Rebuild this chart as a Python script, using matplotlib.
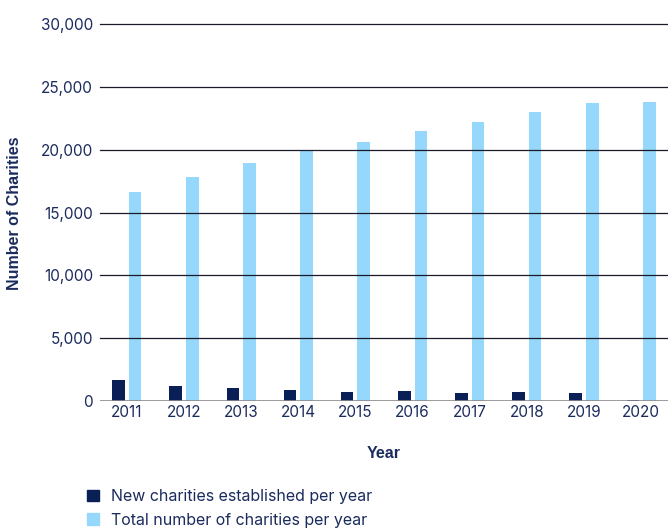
import matplotlib
matplotlib.use("Agg")
import matplotlib.pyplot as plt
import numpy as np
from matplotlib.patches import Patch

years = ["2011", "2012", "2013", "2014", "2015", "2016", "2017", "2018", "2019", "2020"]
new_charities = [1650, 1170, 1010, 850, 750, 830, 610, 750, 670, 60]
total_charities = [16600, 17800, 18900, 19900, 20600, 21500, 22200, 23000, 23700, 23800]
y_ticks = [0, 5000, 10000, 15000, 20000, 25000, 30000]
series_labels = ["New charities established per year", "Total number of charities per year"]

NAVY = "#0b1f57"
LIGHT = "#96d8fc"
TEXT = "#1b2b5e"
FONT = "Inter"

fig = plt.figure(figsize=(6.68, 5.32), dpi=100)
ax = fig.add_axes([100 / 668, 1 - 401 / 532, 1 - 100 / 668, (401 - 24) / 532])

x = np.arange(len(years))
w = 0.22
off = 0.146
ax.bar(x - off, new_charities, width=w, color=NAVY, zorder=2)
ax.bar(x + off, total_charities, width=w, color=LIGHT, zorder=2)

ax.set_xlim(-0.47, len(years) - 1 + 0.47)
ax.set_ylim(0, 30000)
ax.set_yticks(y_ticks)
ax.set_yticklabels([f"{v:,}" for v in y_ticks])
ax.set_xticks(x)
ax.set_xticklabels(years)

for v in y_ticks[1:]:
    ax.axhline(v, color="#1a1a2a", lw=0.9, zorder=3, clip_on=False)
ax.axhline(0, color="#8a8a8a", lw=1.2, zorder=3)

for s in ax.spines.values():
    s.set_visible(False)
ax.tick_params(axis="both", length=0, labelsize=11, labelcolor=TEXT)
ax.tick_params(axis="y", pad=5)
ax.tick_params(axis="x", pad=3)
for lbl in ax.get_xticklabels() + ax.get_yticklabels():
    lbl.set_fontfamily(FONT)

fig.text(15 / 668, 1 - 213 / 532, "Number of Charities", rotation=90, ha="center", va="center",
         fontsize=11.5, fontweight="bold", color=TEXT, family="Liberation Sans")
fig.text(384 / 668, 1 - 453 / 532, "Year", ha="center", va="center",
         fontsize=11.5, fontweight="bold", color=TEXT, family="Liberation Sans")

handles = [Patch(color=NAVY), Patch(color=LIGHT)]
leg = fig.legend(handles, series_labels, loc="upper left", bbox_to_anchor=(87 / 668, 1 - 489 / 532),
                 frameon=False, fontsize=11.5, handlelength=0.75, handleheight=0.75,
                 handletextpad=0.75, labelspacing=0.55, borderaxespad=0, borderpad=0)
for t in leg.get_texts():
    t.set_color(TEXT)
    t.set_fontfamily(FONT)

fig.savefig("out.png", dpi=100)
